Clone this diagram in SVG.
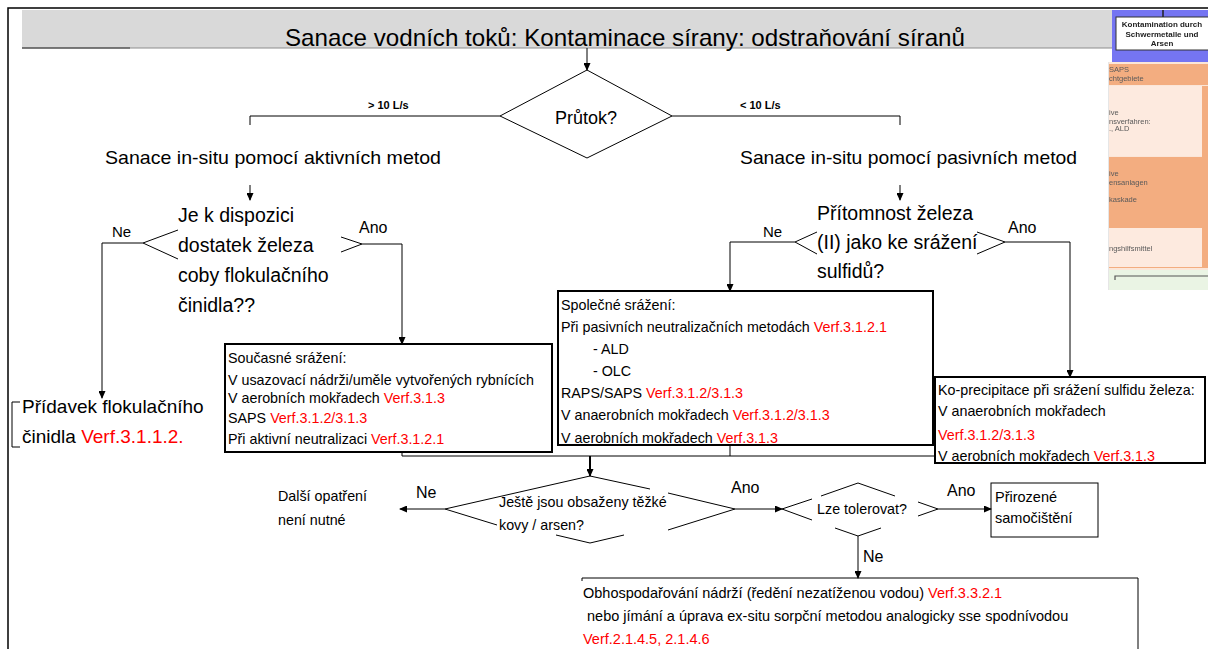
<svg xmlns="http://www.w3.org/2000/svg" width="1208" height="649" viewBox="0 0 1208 649">
  <defs>
    <marker id="arr" markerUnits="userSpaceOnUse" markerWidth="8" markerHeight="7" refX="7" refY="3.5" orient="auto">
      <path d="M0,0 L8,3.5 L0,7 z" fill="#000"/>
    </marker>
    <filter id="soft" x="-5%" y="-5%" width="110%" height="110%">
      <feGaussianBlur stdDeviation="0.55"/>
    </filter>
    <style>
      text { font-family: "Liberation Sans", Arial, sans-serif; fill: #000; }
      .ttl { font-size: 24px; }
      .head { font-size: 19px; }
      .q { font-size: 19.5px; }
      .lbl { font-size: 15px; }
      .lblb { font-size: 16px; }
      .rate { font-size: 11px; font-weight: bold; }
      .box { font-size: 14.3px; }
      .boxw { font-size: 14.5px; }
      .red { fill: #ff0000; }
      .frame { fill: #fff; stroke: #000; stroke-width: 2; }
      .thin { fill: #fff; stroke: #000; stroke-width: 1; }
      .ln { fill: none; stroke: #000; stroke-width: 1; }
      .ln2 { fill: none; stroke: #000; stroke-width: 2; }
      .dia { fill: none; stroke: #000; stroke-width: 1; }
      .ins { font-size: 7.5px; fill: #5a5a5a; }
      .insb { font-size: 8px; font-weight: bold; fill: #222; }
    </style>
  </defs>

  <rect width="1208" height="649" fill="#fff"/>

  <!-- inset: excerpt of a neighbouring chart -->
  <g id="inset" filter="url(#soft)">
    <rect x="1108" y="62" width="100" height="228" fill="#fbe6d8"/>
    <rect x="1108" y="64" width="100" height="21" fill="#f3ad80"/>
    <text class="ins" x="1109" y="72">SAPS</text>
    <text class="ins" x="1109" y="81">chtgebiete</text>
    <rect x="1108" y="86" width="94" height="70" fill="#fdeadf"/>
    <rect x="1202" y="86" width="6" height="182" fill="#f3ad80"/>
    <text class="ins" x="1109" y="115">ive</text>
    <text class="ins" x="1109" y="124">nsverfahren:</text>
    <text class="ins" x="1109" y="131">., ALD</text>
    <rect x="1108" y="157" width="94" height="111" fill="#f3ad80"/>
    <text class="ins" x="1109" y="176">ive</text>
    <text class="ins" x="1109" y="185">ensanlagen</text>
    <text class="ins" x="1109" y="202">kaskade</text>
    <rect x="1108" y="228" width="94" height="39" fill="#fdeadf"/>
    <text class="ins" x="1109" y="251">ngshilfsmittel</text>
    <rect x="1108" y="270" width="100" height="20" fill="#eaf4e4"/>
    <path d="M1115,280 V276 H1208" fill="none" stroke="#555" stroke-width="1.2"/>
    <line x1="1108.5" y1="62" x2="1108.5" y2="290" stroke="#e6e6e6" stroke-width="1"/>
    <rect x="1112" y="10" width="96" height="52" fill="#7474f2"/>
    <rect x="1116" y="17" width="94" height="33" fill="#fff" stroke="#333" stroke-width="1"/>
    <line x1="1163" y1="10" x2="1163" y2="17" stroke="#222" stroke-width="1.5"/>
    <text class="insb" x="1162" y="27" text-anchor="middle">Kontamination durch</text>
    <text class="insb" x="1162" y="37" text-anchor="middle">Schwermetalle und</text>
    <text class="insb" x="1162" y="46" text-anchor="middle">Arsen</text>
  </g>

  <!-- title bar -->
  <g id="title">
    <rect x="22" y="10" width="1090" height="38" fill="#d9d9d9"/>
    <line x1="22" y1="48" x2="1112" y2="48" stroke="#8c8c8c" stroke-width="1"/>
    <line x1="22" y1="48" x2="130" y2="48" stroke="#333" stroke-width="1"/>
    <text class="ttl" x="285" y="46" textLength="680" lengthAdjust="spacingAndGlyphs">Sanace vodních toků: Kontaminace sírany: odstraňování síranů</text>
  </g>

  <!-- outer frame -->
  <path d="M8,649 V8 H1208" fill="none" stroke="#000" stroke-width="1.5"/>

  <!-- flow question -->
  <g id="flow">
    <polygon class="dia" points="587,70 672,116 587,158 500,116"/>
    <text x="586" y="124" font-size="18" text-anchor="middle">Průtok?</text>
    <text class="rate" x="368" y="109">&gt; 10 L/s</text>
    <text class="rate" x="740" y="109">&lt; 10 L/s</text>
  </g>

  <g id="active">
    <text class="head" x="105" y="164" textLength="336" lengthAdjust="spacingAndGlyphs">Sanace in-situ pomocí aktivních metod</text>
  </g>
  <g id="passive">
    <text class="head" x="740" y="164" textLength="337" lengthAdjust="spacingAndGlyphs">Sanace in-situ pomocí pasivních metod</text>
  </g>

  <!-- iron as flocculant? -->
  <g id="q-iron">
    <polyline class="dia" points="178,230 143,243 178,259"/>
    <polyline class="dia" points="341,237 362,244 341,252"/>
    <text class="q" x="178" y="222">Je k dispozici</text>
    <text class="q" x="178" y="252">dostatek železa</text>
    <text class="q" x="178" y="282">coby flokulačního</text>
    <text class="q" x="178" y="312">činidla??</text>
  </g>

  <!-- iron (II) for sulphide precipitation? -->
  <g id="q-sulfide">
    <polyline class="dia" points="817,232 795,242 817,254"/>
    <polyline class="dia" points="977,232 1005,242 977,254"/>
    <text class="q" x="817" y="220">Přítomnost železa</text>
    <text class="q" x="817" y="249">(II) jako ke srážení</text>
    <text class="q" x="817" y="278">sulfidů?</text>
  </g>

  <g id="flocculant">
    <path d="M20,402 H12 V447 H20" fill="none" stroke="#000" stroke-width="1"/>
    <text x="22" y="413" font-size="19">Přídavek flokulačního</text>
    <text x="22" y="443" font-size="19">činidla <tspan class="red">Verf.3.1.1.2.</tspan></text>
  </g>

  <g id="simultaneous">
    <rect class="frame" x="225" y="344" width="327" height="108"/>
    <text class="box" x="228" y="363">Současné srážení:</text>
    <text class="box" x="228" y="385">V usazovací nádrži/uměle vytvořených rybnících</text>
    <text class="box" x="228" y="403">V aerobních mokřadech <tspan class="red">Verf.3.1.3</tspan></text>
    <text class="box" x="228" y="423">SAPS <tspan class="red">Verf.3.1.2/3.1.3</tspan></text>
    <text class="box" x="228" y="444">Při aktivní neutralizaci <tspan class="red">Verf.3.1.2.1</tspan></text>
  </g>

  <g id="co-precipitation">
    <rect class="frame" x="558" y="291" width="375" height="154"/>
    <text class="box" x="561" y="310">Společné srážení:</text>
    <text class="box" x="561" y="332">Při pasivních neutralizačních metodách <tspan class="red">Verf.3.1.2.1</tspan></text>
    <text class="box" x="593" y="354">- ALD</text>
    <text class="box" x="593" y="376">- OLC</text>
    <text class="box" x="561" y="398">RAPS/SAPS <tspan class="red">Verf.3.1.2/3.1.3</tspan></text>
    <text class="box" x="561" y="420">V anaerobních mokřadech <tspan class="red">Verf.3.1.2/3.1.3</tspan></text>
    <text class="box" x="561" y="443">V aerobních mokřadech <tspan class="red">Verf.3.1.3</tspan></text>
  </g>

  <g id="sulfide-precipitation">
    <rect class="frame" x="935" y="377" width="270" height="86"/>
    <text class="box" x="938" y="395">Ko-precipitace při srážení sulfidu železa:</text>
    <text class="box" x="938" y="416">V anaerobních mokřadech</text>
    <text class="box red" x="938" y="440">Verf.3.1.2/3.1.3</text>
    <text class="box" x="938" y="461">V aerobních mokřadech <tspan class="red">Verf.3.1.3</tspan></text>
  </g>

  <!-- metals still present? -->
  <g id="q-metals">
    <polyline class="dia" points="445,509 590,476 650,489"/>
    <polyline class="dia" points="668,493 735,509 668,530"/>
    <polyline class="dia" points="445,509 497,525"/>
    <polyline class="dia" points="556,535 590,543 624,535"/>
    <text x="499" y="507" font-size="14.3">Ještě jsou obsaženy těžké</text>
    <text x="499" y="530" font-size="14.3">kovy / arsen?</text>
  </g>

  <g id="no-action">
    <text class="box" x="278" y="501">Další opatření</text>
    <text class="box" x="278" y="525">není nutné</text>
  </g>

  <!-- tolerable? -->
  <g id="q-tolerable">
    <polyline class="dia" points="812,499 782,509 812,520"/>
    <polyline class="dia" points="821,496 858,483 895,496"/>
    <polyline class="dia" points="918,502 938,509 918,516"/>
    <polyline class="dia" points="835,528 858,536 881,528"/>
    <text x="862" y="514" font-size="14.3" text-anchor="middle">Lze tolerovat?</text>
  </g>

  <g id="self-purification">
    <rect class="thin" x="991" y="483" width="107" height="54"/>
    <text x="995" y="502" font-size="14.5">Přirozené</text>
    <text x="995" y="523" font-size="14.5">samočištění</text>
  </g>

  <g id="reservoir">
    <path d="M582,581 V578 H1138 V649" fill="none" stroke="#000" stroke-width="1"/>
    <text class="boxw" x="583" y="598">Obhospodařování nádrží (ředění nezatíženou vodou) <tspan class="red">Verf.3.3.2.1</tspan></text>
    <text class="boxw" x="583" y="621" xml:space="preserve"> nebo jímání a úprava ex-situ sorpční metodou analogicky sse spodnívodou</text>
    <text class="boxw red" x="583" y="644">Verf.2.1.4.5, 2.1.4.6</text>
  </g>

  <!-- connectors -->
  <g id="connectors">
    <line class="ln" x1="587" y1="48" x2="587" y2="70" marker-end="url(#arr)"/>
    <path class="ln" d="M500,116 H250 V125"/>
    <path class="ln" d="M672,116 H900 V125"/>
    <line class="ln" x1="250" y1="185" x2="250" y2="200" marker-end="url(#arr)"/>
    <line class="ln" x1="900" y1="185" x2="900" y2="200" marker-end="url(#arr)"/>

    <path class="ln" d="M143,243 H102 V398" marker-end="url(#arr)"/>
    <path class="ln" d="M362,244 H402 V344" marker-end="url(#arr)"/>
    <path class="ln" d="M795,242 H730 V291" marker-end="url(#arr)"/>
    <path class="ln" d="M1005,242 H1070 V377" marker-end="url(#arr)"/>

    <line class="ln" x1="402" y1="452" x2="402" y2="456"/>
    <line class="ln" x1="730" y1="445" x2="730" y2="456"/>
    <line class="ln" x1="402" y1="456" x2="935" y2="456"/>
    <line class="ln2" x1="590" y1="456" x2="590" y2="476" marker-end="url(#arr)"/>

    <line class="ln" x1="445" y1="509" x2="400" y2="509" marker-end="url(#arr)"/>
    <line class="ln" x1="735" y1="509" x2="782" y2="509" marker-end="url(#arr)"/>
    <line class="ln" x1="938" y1="509" x2="991" y2="509" marker-end="url(#arr)"/>
    <line class="ln" x1="858" y1="536" x2="858" y2="578" marker-end="url(#arr)"/>

    <text class="lbl" x="112" y="237">Ne</text>
    <text class="lblb" x="359" y="233">Ano</text>
    <text class="lbl" x="763" y="237">Ne</text>
    <text class="lblb" x="1008" y="233">Ano</text>
    <text class="lblb" x="416" y="498">Ne</text>
    <text class="lblb" x="731" y="493">Ano</text>
    <text class="lblb" x="947" y="496">Ano</text>
    <text class="lblb" x="863" y="562">Ne</text>
  </g>
</svg>
